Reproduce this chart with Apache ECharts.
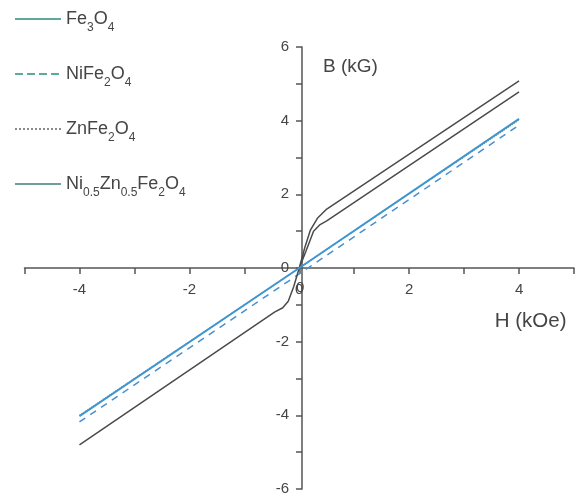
<!DOCTYPE html>
<html>
<head>
<meta charset="utf-8">
<script src="https://cdn.jsdelivr.net/npm/echarts@6/dist/echarts.min.js"></script>
<style>
  html, body { margin: 0; padding: 0; background: #fff; }
  #chart { width: 577px; height: 501px; }
</style>
</head>
<body>
<div id="chart"></div>
<script>
// field H (kOe) and induction B (kG)
var hLinear = [-4, 0, 4];
var bFe3O4 = [-4.02, 0, 4.05];
var bNiFe2O4 = [-4.18, -0.16, 3.88];
var bZnFe2O4 = [-4.0, 0, 4.02];

// Ni0.5Zn0.5Fe2O4 loop: down branch from +4 to -4, then back up
var hLoop = [4, 0.5, 0.33, 0.2, 0.1, 0, -0.1, -0.2, -0.3, -0.45, -4,
             -0.45, -0.3, -0.2, -0.1, 0, 0.12, 0.26, 0.38, 0.5, 4];
var bLoop = [5.08, 1.6, 1.35, 1.02, 0.55, 0, -0.5, -0.9, -1.08, -1.2, -4.8,
             -1.2, -1.08, -0.9, -0.5, 0, 0.45, 1.0, 1.18, 1.28, 4.78];

var seriesNames = ['Fe3O4', 'NiFe2O4', 'ZnFe2O4', 'Ni0.5Zn0.5Fe2O4'];
var legendLabels = {
    'Fe3O4': '{m|Fe}{s|3}{m|O}{s|4}',
    'NiFe2O4': '{m|NiFe}{s|2}{m|O}{s|4}',
    'ZnFe2O4': '{m|ZnFe}{s|2}{m|O}{s|4}',
    'Ni0.5Zn0.5Fe2O4': '{m|Ni}{s|0.5}{m|Zn}{s|0.5}{m|Fe}{s|2}{m|O}{s|4}'
};
var tickLabels = [-6, -4, -2, 0, 2, 4, 6];

function pairs(xs, ys) {
    return xs.map(function (x, i) { return [x, ys[i]]; });
}

var font = 'Liberation Sans';
var axisColor = '#555';
var textColor = '#454545';
var noSymbol = { opacity: 0, borderWidth: 0 };

var myChart = echarts.init(document.getElementById('chart'));
var option = {
    animation: false,
    backgroundColor: '#fff',
    textStyle: { fontFamily: font },
    grid: { left: 24.5, right: -2.5, top: 47, bottom: 12 },
    legend: {
        orient: 'vertical',
        left: 9,
        top: 2,
        itemWidth: 46,
        itemHeight: 14,
        itemGap: 28,
        itemStyle: noSymbol,
        data: [
            { name: 'Fe3O4', itemStyle: noSymbol, lineStyle: { color: '#5ea99c', type: 'solid' } },
            { name: 'NiFe2O4', itemStyle: noSymbol, lineStyle: { color: '#5ea99c', type: 'dashed' } },
            { name: 'ZnFe2O4', itemStyle: noSymbol, lineStyle: { color: '#8a8a8a', type: 'dotted' } },
            { name: 'Ni0.5Zn0.5Fe2O4', itemStyle: noSymbol, lineStyle: { color: '#6f9f97', type: 'solid' } }
        ],
        formatter: function (name) { return legendLabels[name]; },
        textStyle: {
            rich: {
                m: { fontSize: 18, fontFamily: font, color: textColor, lineHeight: 24, verticalAlign: 'middle' },
                s: { fontSize: 12, fontFamily: font, color: textColor, lineHeight: 12,
                     verticalAlign: 'top', padding: [15, 0, 0, 0] }
            }
        }
    },
    xAxis: {
        type: 'value',
        position: 'bottom',
        offset: -221,
        min: -5,
        max: 5,
        interval: 1,
        name: 'H (kOe)',
        nameLocation: 'end',
        nameGap: -7.5,
        nameTextStyle: {
            fontSize: 20.5, color: textColor, fontFamily: font,
            align: 'right', verticalAlign: 'top', padding: [43, 0, 0, 0]
        },
        axisLine: { onZero: false, lineStyle: { color: axisColor, width: 1.5 } },
        axisTick: { inside: false, length: 6, lineStyle: { color: axisColor, width: 1.5 } },
        axisLabel: {
            margin: 14, fontSize: 15, color: textColor, fontFamily: font, hideOverlap: false,
            formatter: function (v) { return tickLabels.indexOf(v) >= 0 ? String(v) : ''; }
        },
        splitLine: { show: false }
    },
    yAxis: {
        type: 'value',
        position: 'left',
        offset: -277.5,
        min: -6,
        max: 6,
        interval: 1,
        name: 'B (kG)',
        nameLocation: 'end',
        nameGap: -20,
        nameTextStyle: {
            fontSize: 19, color: textColor, fontFamily: font,
            align: 'left', verticalAlign: 'middle', padding: [0, 0, 0, 21]
        },
        axisLine: { onZero: false, lineStyle: { color: axisColor, width: 1.5 } },
        axisTick: { inside: false, length: 6, lineStyle: { color: axisColor, width: 1.5 } },
        axisLabel: {
            margin: 13, fontSize: 15, color: textColor, fontFamily: font, hideOverlap: false,
            formatter: function (v) { return tickLabels.indexOf(v) >= 0 ? String(v) : ''; }
        },
        splitLine: { show: false }
    },
    series: [
        {
            name: seriesNames[2],
            type: 'line',
            symbol: 'none',
            data: pairs(hLinear, bZnFe2O4),
            lineStyle: { color: '#8a8a8a', width: 1.2, type: 'dotted' },
            itemStyle: { color: '#8a8a8a' },
            z: 1
        },
        {
            name: seriesNames[0],
            type: 'line',
            symbol: 'none',
            data: pairs(hLinear, bFe3O4),
            lineStyle: { color: '#3e96cf', width: 2 },
            itemStyle: { color: '#3e96cf' },
            z: 3
        },
        {
            name: seriesNames[1],
            type: 'line',
            symbol: 'none',
            data: pairs(hLinear, bNiFe2O4),
            lineStyle: { color: '#4a8fcf', width: 1.5, type: [7, 6] },
            itemStyle: { color: '#4a8fcf' },
            z: 2
        },
        {
            name: seriesNames[3],
            type: 'line',
            symbol: 'none',
            data: pairs(hLoop, bLoop),
            lineStyle: { color: '#4b4b4b', width: 1.5 },
            itemStyle: { color: '#4b4b4b' },
            z: 2
        }
    ]
};

myChart.setOption(option);

// the H axis drops its "0" label where the B axis crosses it; put it back
var origin = myChart.convertToPixel({ xAxisIndex: 0, yAxisIndex: 0 }, [0, 0]);
myChart.setOption({
    graphic: [{
        type: 'text',
        x: origin[0] + 1,
        y: origin[1] + 20,
        style: {
            text: '0', fontSize: 15, fontFamily: font, fill: textColor,
            align: 'center', verticalAlign: 'middle'
        }
    }]
});
</script>
</body>
</html>
